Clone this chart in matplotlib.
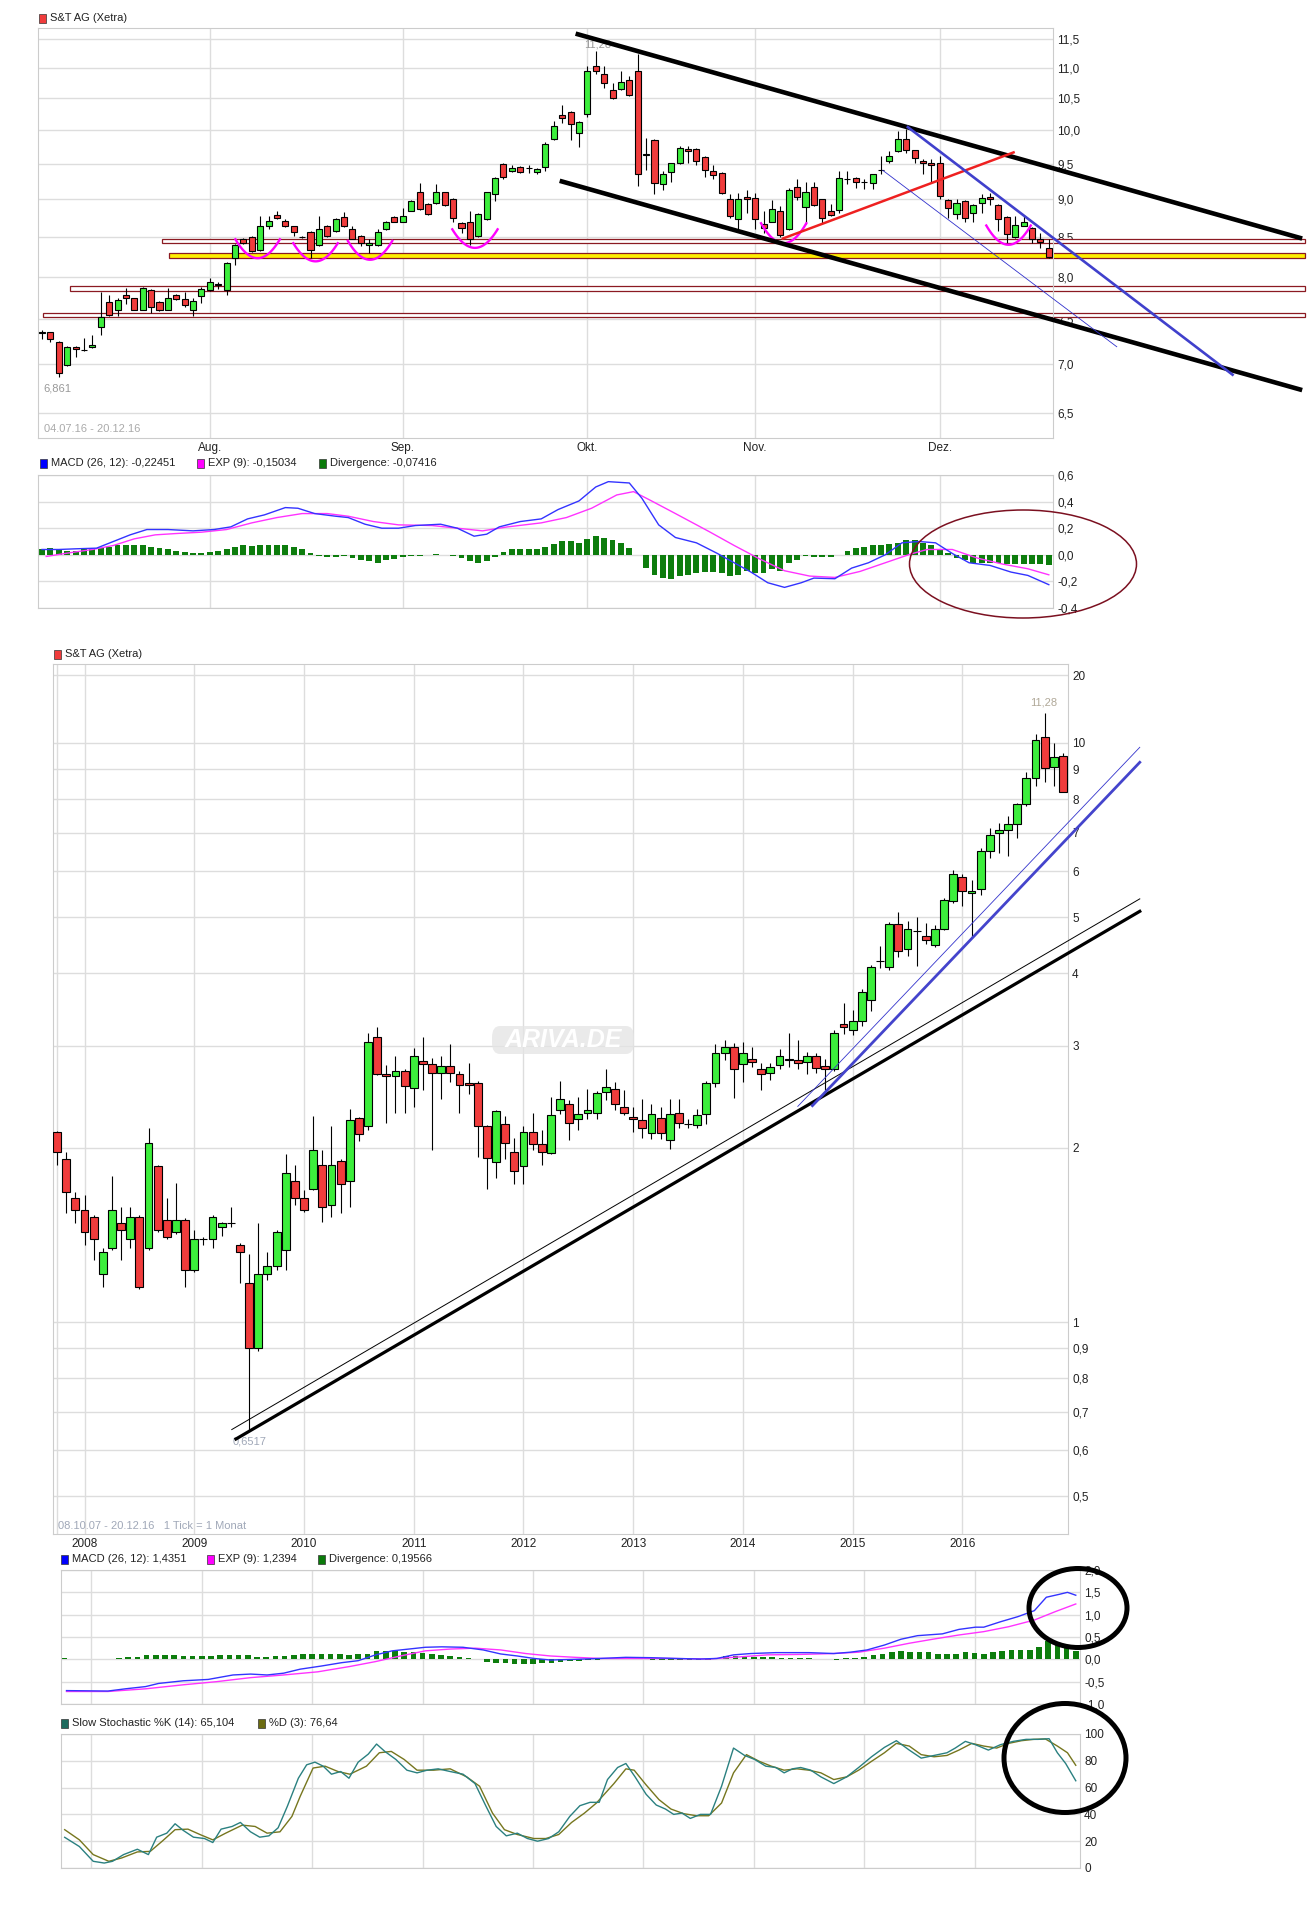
import numpy as np
import matplotlib
matplotlib.use('Agg')
import matplotlib.pyplot as plt
from matplotlib.patches import Rectangle, Ellipse, FancyBboxPatch
from matplotlib.ticker import NullLocator

plt.rcParams['font.family'] = ['Liberation Sans Narrow', 'Liberation Sans', 'DejaVu Sans']

W, H = 1308, 1912
GREEN = '#3cee3c'
RED = '#f03c3c'
GRID = '#dddddd'

# ---------------- daily candles 04.07.16 - 20.12.16 (trading-day index) ----------------
d_open = [7.34, 7.35, 7.24, 6.99, 7.19, 7.15, 7.19, 7.41, 7.70, 7.61,
          7.78, 7.74, 7.61, 7.84, 7.70, 7.61, 7.78, 7.73, 7.61, 7.77,
          7.84, 7.91, 7.84, 8.23, 8.48, 8.50, 8.33, 8.64, 8.79, 8.71,
          8.64, 8.50, 8.57, 8.40, 8.64, 8.58, 8.76, 8.60, 8.51, 8.40,
          8.40, 8.60, 8.76, 8.70, 8.85, 9.10, 8.94, 8.95, 9.10, 9.01,
          8.68, 8.70, 8.51, 8.73, 9.08, 9.50, 9.40, 9.46, 9.44, 9.39,
          9.46, 9.87, 10.23, 10.28, 9.96, 10.25, 11.03, 10.89, 10.64, 10.65,
          10.80, 10.95, 9.63, 9.86, 9.21, 9.39, 9.52, 9.72, 9.72, 9.60,
          9.40, 9.37, 9.01, 8.74, 9.04, 9.02, 8.67, 8.70, 8.85, 8.60,
          9.18, 8.90, 9.17, 9.00, 8.85, 8.86, 9.29, 9.30, 9.25, 9.23,
          9.42, 9.54, 9.69, 9.87, 9.70, 9.55, 9.52, 9.52, 8.99, 8.80,
          8.98, 8.81, 8.95, 9.04, 8.93, 8.76, 8.50, 8.65, 8.62, 8.47,
          8.36]
d_high = [7.38, 7.35, 7.25, 7.20, 7.20, 7.29, 7.32, 7.82, 7.78, 7.74,
          7.86, 7.75, 7.87, 7.85, 7.71, 7.86, 7.79, 7.82, 7.74, 7.88,
          7.98, 7.94, 8.18, 8.41, 8.49, 8.51, 8.77, 8.77, 8.85, 8.73,
          8.65, 8.51, 8.58, 8.77, 8.66, 8.75, 8.83, 8.64, 8.52, 8.48,
          8.60, 8.71, 8.78, 8.88, 8.99, 9.23, 8.95, 9.21, 9.11, 9.02,
          8.69, 8.84, 8.82, 9.11, 9.31, 9.51, 9.48, 9.47, 9.48, 9.44,
          9.82, 10.14, 10.39, 10.30, 10.15, 11.03, 11.28, 11.03, 10.75, 10.95,
          10.86, 11.23, 9.88, 9.87, 9.40, 9.52, 9.76, 9.76, 9.73, 9.61,
          9.49, 9.38, 9.08, 9.09, 9.13, 9.09, 8.84, 8.99, 8.91, 9.16,
          9.28, 9.24, 9.24, 9.01, 8.94, 9.40, 9.40, 9.31, 9.28, 9.36,
          9.61, 9.69, 9.99, 10.02, 9.71, 9.57, 9.57, 9.61, 9.00, 9.00,
          8.99, 8.94, 9.08, 9.09, 8.94, 8.77, 8.77, 8.77, 8.63, 8.55,
          8.48]
d_low = [7.27, 7.24, 6.861, 6.98, 7.08, 7.14, 7.18, 7.32, 7.53, 7.53,
         7.68, 7.60, 7.60, 7.57, 7.59, 7.60, 7.72, 7.64, 7.53, 7.69,
         7.83, 7.85, 7.78, 8.15, 8.41, 8.31, 8.32, 8.61, 8.74, 8.63,
         8.51, 8.49, 8.23, 8.39, 8.50, 8.57, 8.63, 8.47, 8.38, 8.30,
         8.39, 8.59, 8.69, 8.69, 8.84, 8.86, 8.79, 8.94, 8.91, 8.70,
         8.55, 8.40, 8.50, 8.72, 8.98, 9.29, 9.38, 9.37, 9.37, 9.36,
         9.40, 9.86, 10.12, 9.86, 9.75, 10.20, 10.89, 10.67, 10.49, 10.64,
         10.54, 9.19, 9.42, 9.07, 9.13, 9.25, 9.50, 9.52, 9.49, 9.32,
         9.29, 9.08, 8.75, 8.60, 8.82, 8.60, 8.55, 8.69, 8.50, 8.59,
         8.99, 8.67, 8.91, 8.67, 8.78, 8.82, 9.21, 9.16, 9.15, 9.15,
         9.35, 9.51, 9.68, 9.66, 9.52, 9.35, 9.24, 9.00, 8.75, 8.74,
         8.70, 8.69, 8.82, 8.92, 8.58, 8.42, 8.49, 8.64, 8.42, 8.36,
         8.23]
d_close = [7.35, 7.27, 6.91, 7.19, 7.16, 7.15, 7.21, 7.52, 7.55, 7.72,
           7.74, 7.61, 7.86, 7.64, 7.60, 7.74, 7.73, 7.66, 7.71, 7.85,
           7.94, 7.90, 8.17, 8.40, 8.42, 8.32, 8.64, 8.71, 8.75, 8.64,
           8.57, 8.50, 8.33, 8.60, 8.51, 8.73, 8.64, 8.48, 8.42, 8.42,
           8.57, 8.70, 8.70, 8.77, 8.98, 8.87, 8.80, 9.10, 8.92, 8.75,
           8.62, 8.47, 8.80, 9.10, 9.30, 9.32, 9.44, 9.39, 9.45, 9.43,
           9.80, 10.06, 10.19, 10.10, 10.13, 10.95, 10.95, 10.75, 10.51, 10.77,
           10.55, 9.35, 9.64, 9.23, 9.36, 9.51, 9.74, 9.69, 9.54, 9.42,
           9.34, 9.09, 8.77, 9.00, 9.00, 8.73, 8.62, 8.87, 8.52, 9.13,
           9.04, 9.10, 8.92, 8.75, 8.79, 9.30, 9.29, 9.24, 9.25, 9.35,
           9.42, 9.62, 9.87, 9.70, 9.59, 9.51, 9.48, 9.05, 8.88, 8.95,
           8.75, 8.93, 9.02, 9.00, 8.73, 8.54, 8.66, 8.70, 8.47, 8.44,
           8.24]
d_month_idx = [20, 43, 65, 85, 107]
d_month_lbl = ['Aug.', 'Sep.', 'Okt.', 'Nov.', 'Dez.']
d_yticks = [6.5, 7.0, 7.5, 8.0, 8.5, 9.0, 9.5, 10.0, 10.5, 11.0, 11.5]

# horizontal zones drawn on the daily chart
band_start = [14.3, 15.1, 3.3, 0.1]
band_low = [8.42, 8.23, 7.83, 7.52]
band_high = [8.48, 8.30, 7.89, 7.57]
band_fill = ['white', '#ffee00', 'white', 'white']

# trend lines on the daily chart (index, price)
d_black_up = ([63.6, 150.2], [11.59, 8.48])
d_black_lo = ([61.7, 150.2], [9.26, 6.73])
d_red = ([88.3, 115.8], [8.48, 9.67])
d_blue = ([103.2, 141.9], [10.05, 6.89])
d_blue_thin = ([100.2, 128.1], [9.41, 7.19])

# magenta "cups"
arc_center = [25.7, 32.6, 39.1, 51.6, 88.4, 115.2]
arc_half = [2.65, 2.65, 2.65, 2.7, 2.7, 2.65]
arc_low = [8.23, 8.19, 8.21, 8.36, 8.42, 8.40]
arc_high = [8.47, 8.42, 8.45, 8.60, 8.68, 8.65]

# ---------------- daily MACD ----------------
macd_d_x = [0, 2, 4, 6.5, 8.5, 10.5, 12.5, 15, 18, 20.5, 22.5, 24.5, 26.5, 29, 30.5, 32.5,
            35, 36.5, 38.5, 40.5, 42.5, 44.5, 47.5, 49.5, 51.5, 53, 54.5, 57, 59.5, 61.5,
            64, 66, 67.5, 70, 71.5, 73.5, 75.5, 78, 80.5, 82.5, 84.5, 86.5, 88.5, 90.5,
            92, 94.5, 96.5, 98.5, 100.5, 102.5, 104.5, 106.5, 108.5, 110.5, 113, 115.5,
            117.5, 120]
macd_d_y = [0.04, 0.04, 0.045, 0.05, 0.10, 0.15, 0.19, 0.19, 0.18, 0.19, 0.21, 0.27, 0.30,
            0.355, 0.35, 0.31, 0.29, 0.28, 0.23, 0.20, 0.20, 0.22, 0.23, 0.20, 0.14, 0.155,
            0.21, 0.25, 0.27, 0.34, 0.405, 0.51, 0.55, 0.54, 0.425, 0.225, 0.13, 0.09, 0.01,
            -0.06, -0.13, -0.21, -0.245, -0.21, -0.175, -0.18, -0.10, -0.06, 0.0, 0.09,
            0.10, 0.09, 0.01, -0.06, -0.08, -0.13, -0.155, -0.22451]
sig_d_x = [0.5, 3, 6, 8.5, 11, 13.5, 16, 19, 22, 25, 28, 31, 34, 36.5, 39.5, 42.5, 46.5,
           49.5, 52.5, 55.5, 59.5, 62.5, 65.5, 68.5, 70.5, 72.5, 75.5, 79.5, 82.5, 85.5,
           88.5, 91.5, 94.5, 97.5, 100.5, 103.5, 105.5, 108.5, 111.5, 114.5, 117.5, 120]
sig_d_y = [-0.0125, 0.0125, 0.04, 0.07, 0.12, 0.15, 0.16, 0.17, 0.19, 0.24, 0.28, 0.31,
           0.31, 0.29, 0.25, 0.225, 0.22, 0.20, 0.18, 0.21, 0.24, 0.28, 0.35, 0.45, 0.475,
           0.41, 0.31, 0.175, 0.07, -0.03, -0.12, -0.16, -0.17, -0.125, -0.06, 0.005,
           0.04, 0.04, -0.025, -0.07, -0.105, -0.15034]
div_d = [0.045, 0.05, 0.04, 0.03, 0.03, 0.04, 0.04, 0.05, 0.06, 0.07,
         0.075, 0.07, 0.075, 0.06, 0.05, 0.04, 0.03, 0.02, 0.015, 0.015,
         0.02, 0.03, 0.04, 0.06, 0.07, 0.065, 0.075, 0.075, 0.075, 0.075,
         0.06, 0.04, 0.01, -0.01, -0.02, -0.02, -0.01, -0.025, -0.04, -0.05,
         -0.06, -0.04, -0.03, -0.02, -0.01, -0.01, -0.005, 0.005, 0.0, -0.01,
         -0.025, -0.05, -0.06, -0.045, -0.015, 0.02, 0.04, 0.045, 0.045, 0.045,
         0.06, 0.08, 0.10, 0.10, 0.09, 0.12, 0.14, 0.125, 0.11, 0.085,
         0.05, 0.0, -0.10, -0.15, -0.175, -0.18, -0.16, -0.15, -0.14, -0.13,
         -0.13, -0.14, -0.16, -0.15, -0.125, -0.14, -0.14, -0.11, -0.12, -0.06,
         -0.04, -0.01, -0.02, -0.02, -0.02, 0.0, 0.03, 0.05, 0.06, 0.07,
         0.075, 0.08, 0.09, 0.11, 0.11, 0.09, 0.07, 0.04, 0.01, -0.025,
         -0.04, -0.06, -0.06, -0.06, -0.06, -0.07, -0.07, -0.07, -0.07, -0.07,
         -0.07416]

# ---------------- monthly candles Oct 2007 - Dec 2016 ----------------
m_open = [2.13, 1.91, 1.64, 1.56, 1.52, 1.21, 1.34, 1.48, 1.39, 1.52,
          1.34, 1.86, 1.50, 1.43, 1.50, 1.23, 1.39, 1.39, 1.46, 1.48,
          1.36, 1.17, 0.90, 1.21, 1.25, 1.33, 1.75, 1.64, 1.70, 1.87,
          1.59, 1.90, 1.75, 2.25, 2.18, 3.10, 2.68, 2.66, 2.71, 2.54,
          2.82, 2.79, 2.69, 2.77, 2.68, 2.59, 2.59, 2.18, 1.89, 2.20,
          1.97, 1.86, 2.13, 2.03, 1.96, 2.32, 2.38, 2.24, 2.30, 2.30,
          2.50, 2.53, 2.35, 2.26, 2.23, 2.12, 2.25, 2.06, 2.30, 2.20,
          2.19, 2.29, 2.59, 2.91, 2.99, 2.79, 2.85, 2.73, 2.69, 2.78,
          2.85, 2.83, 2.81, 2.88, 2.77, 2.74, 3.27, 3.20, 3.31, 3.60,
          4.21, 4.10, 4.87, 4.40, 4.73, 4.65, 4.47, 4.77, 5.34, 5.87,
          5.51, 5.60, 6.52, 6.99, 7.08, 7.26, 7.85, 8.70, 10.24, 9.08,
          9.50]
m_high = [2.14, 1.97, 1.68, 1.66, 1.53, 1.34, 1.79, 1.58, 1.58, 1.53,
          2.16, 1.87, 1.64, 1.74, 1.51, 1.44, 1.40, 1.53, 1.49, 1.58,
          1.37, 1.31, 1.48, 1.32, 1.44, 1.95, 1.87, 1.69, 2.27, 1.98,
          2.18, 1.91, 2.33, 2.26, 3.16, 3.23, 2.78, 2.88, 2.73, 2.97,
          3.10, 2.86, 2.88, 3.02, 2.71, 2.80, 2.61, 2.19, 2.32, 2.27,
          2.08, 2.18, 2.30, 2.15, 2.45, 2.61, 2.42, 2.45, 2.53, 2.51,
          2.74, 2.60, 2.52, 2.35, 2.43, 2.38, 2.35, 2.43, 2.43, 2.24,
          2.33, 2.61, 3.02, 3.07, 3.03, 3.05, 2.99, 2.80, 2.80, 2.96,
          3.16, 3.07, 2.93, 2.91, 2.85, 3.20, 3.55, 3.46, 3.76, 4.14,
          4.46, 4.90, 5.11, 4.93, 5.01, 4.88, 4.84, 5.39, 6.03, 5.95,
          5.79, 6.59, 7.13, 7.28, 7.49, 7.88, 8.90, 10.36, 11.28, 10.00,
          9.61]
m_low = [1.87, 1.54, 1.48, 1.36, 1.28, 1.15, 1.33, 1.28, 1.34, 1.14,
         1.33, 1.43, 1.39, 1.42, 1.15, 1.22, 1.36, 1.34, 1.41, 1.46,
         1.17, 0.6517, 0.89, 1.18, 1.23, 1.23, 1.59, 1.55, 1.69, 1.49,
         1.52, 1.54, 1.58, 2.05, 2.15, 2.67, 2.21, 2.30, 2.30, 2.35,
         2.52, 1.98, 2.43, 2.60, 2.30, 2.48, 1.93, 1.70, 1.77, 1.91,
         1.73, 1.73, 1.98, 1.87, 1.95, 2.29, 2.06, 2.15, 2.24, 2.24,
         2.42, 2.32, 2.28, 2.13, 2.08, 2.07, 2.07, 1.99, 2.16, 2.16,
         2.16, 2.20, 2.55, 2.83, 2.44, 2.60, 2.76, 2.52, 2.62, 2.74,
         2.76, 2.74, 2.68, 2.69, 2.52, 2.71, 3.14, 3.13, 3.25, 3.44,
         4.09, 4.05, 4.27, 4.29, 4.12, 4.50, 4.45, 4.76, 5.30, 5.22,
         4.63, 5.47, 6.33, 6.46, 6.39, 6.85, 7.77, 8.42, 8.55, 8.44,
         8.23]
m_close = [1.97, 1.68, 1.56, 1.43, 1.39, 1.32, 1.56, 1.44, 1.52, 1.15,
           2.04, 1.44, 1.40, 1.50, 1.23, 1.39, 1.39, 1.52, 1.48, 1.48,
           1.32, 0.90, 1.21, 1.25, 1.43, 1.81, 1.64, 1.56, 1.98, 1.58,
           1.87, 1.73, 2.23, 2.11, 3.04, 2.68, 2.66, 2.71, 2.56, 2.88,
           2.79, 2.69, 2.77, 2.69, 2.57, 2.57, 2.18, 1.92, 2.31, 2.04,
           1.82, 2.13, 2.03, 1.97, 2.28, 2.43, 2.21, 2.29, 2.32, 2.49,
           2.55, 2.38, 2.30, 2.24, 2.16, 2.29, 2.12, 2.29, 2.21, 2.20,
           2.28, 2.59, 2.91, 2.99, 2.73, 2.91, 2.81, 2.685, 2.76, 2.88,
           2.84, 2.80, 2.88, 2.75, 2.74, 3.16, 3.23, 3.31, 3.71, 4.11,
           4.21, 4.87, 4.38, 4.77, 4.73, 4.57, 4.77, 5.36, 5.94, 5.56,
           5.55, 6.50, 6.94, 7.07, 7.26, 7.85, 8.70, 10.13, 9.06, 9.46,
           8.23]
m_year_idx = [3, 15, 27, 39, 51, 63, 75, 87, 99]
m_year_lbl = ['2008', '2009', '2010', '2011', '2012', '2013', '2014', '2015', '2016']
m_yticks = [0.5, 0.6, 0.7, 0.8, 0.9, 1, 2, 3, 4, 5, 6, 7, 8, 9, 10, 13.1]
m_ylabels = ['0,5', '0,6', '0,7', '0,8', '0,9', '1', '2', '3', '4', '5', '6', '7', '8', '9', '10', '20']

m_black = ([19.56, 118.4], [0.628, 5.12])
m_black_thin = ([19.1, 118.4], [0.652, 5.38])
m_blue = ([82.6, 118.4], [2.364, 9.26])
m_blue_thin = ([81.0, 118.4], [2.357, 9.83])

# ---------------- monthly MACD ----------------
macd_m_x = [0.3, 4.8, 6.7, 8.9, 10.3, 13.0, 15.7, 18.4, 20.3, 22.1, 23.9, 25.7, 28.0, 30.2,
            32.0, 33.9, 35.7, 37.5, 39.3, 41.1, 43.4, 45.6, 47.5, 49.3, 51.1, 52.9, 55.6,
            58.3, 61.1, 63.8, 66.5, 69.2, 71.0, 72.8, 74.7, 77.4, 81.0, 83.7, 85.5, 87.3,
            89.2, 91.0, 92.8, 95.5, 97.3, 99.1, 100.0, 101.8, 103.7, 105.5, 106.8, 108.2,
            109.1, 110.0]
macd_m_y = [-0.70, -0.71, -0.66, -0.61, -0.54, -0.48, -0.45, -0.35, -0.33, -0.35, -0.31,
            -0.22, -0.15, -0.075, -0.03, 0.10, 0.19, 0.23, 0.27, 0.28, 0.27, 0.21, 0.12,
            0.075, 0.02, -0.015, 0.0, 0.02, 0.045, 0.037, 0.02, 0.007, 0.02, 0.10, 0.13,
            0.15, 0.15, 0.13, 0.16, 0.21, 0.32, 0.45, 0.53, 0.57, 0.67, 0.72, 0.72, 0.84,
            0.955, 1.09, 1.39, 1.455, 1.50, 1.4351]
sig_m_x = [0.3, 4.8, 8.9, 13.0, 16.6, 20.3, 23.9, 27.6, 31.1, 33.9, 36.6, 39.3, 42.0, 44.7,
           47.5, 50.2, 52.9, 55.6, 58.3, 61.9, 65.6, 70.1, 72.8, 76.5, 80.1, 83.7, 86.4,
           89.2, 91.9, 94.6, 97.3, 100.0, 102.7, 105.5, 107.8, 110.0]
sig_m_y = [-0.72, -0.72, -0.66, -0.57, -0.50, -0.41, -0.35, -0.28, -0.16, -0.05, 0.075,
           0.19, 0.23, 0.25, 0.21, 0.13, 0.075, 0.045, 0.02, 0.02, 0.02, 0.007, 0.045,
           0.10, 0.11, 0.13, 0.16, 0.25, 0.36, 0.455, 0.545, 0.62, 0.73, 0.88, 1.07, 1.2394]
div_m = [0.037, 0.007, 0.007, 0.007, 0.007, 0.015, 0.03, 0.045, 0.06, 0.09,
         0.09, 0.09, 0.09, 0.08, 0.075, 0.075, 0.08, 0.09, 0.09, 0.09,
         0.09, 0.06, 0.06, 0.067, 0.08, 0.10, 0.12, 0.11, 0.12, 0.12,
         0.11, 0.10, 0.12, 0.12, 0.19, 0.19, 0.18, 0.16, 0.155, 0.15,
         0.12, 0.09, 0.075, 0.06, 0.03, 0.007, -0.05, -0.09, -0.09, -0.10,
         -0.11, -0.10, -0.09, -0.075, -0.06, -0.045, -0.03, -0.02, -0.015, 0.015,
         0.02, 0.02, 0.015, 0.007, -0.015, -0.015, -0.015, -0.015, -0.015, -0.015,
         -0.015, 0.037, 0.075, 0.075, 0.075, 0.06, 0.06, 0.045, 0.037, 0.037,
         0.037, 0.03, 0.015, 0.015, -0.01, 0.02, 0.03, 0.045, 0.10, 0.13,
         0.17, 0.19, 0.17, 0.17, 0.17, 0.12, 0.12, 0.12, 0.16, 0.15,
         0.12, 0.17, 0.19, 0.21, 0.21, 0.22, 0.28, 0.40, 0.36, 0.32,
         0.19566]

# ---------------- slow stochastic ----------------
stk_x = [0.1, 1.7, 3.2, 4.4, 5.3, 6.5, 8.0, 9.2, 10.1, 11.2, 12.1, 13.0, 14.1, 15.3, 16.2,
         17.1, 18.3, 19.2, 20.3, 21.3, 22.3, 23.3, 24.3, 25.5, 26.4, 27.3, 28.2, 29.1,
         30.1, 31.0, 32.0, 33.1, 34.0, 34.9, 36.1, 37.3, 38.4, 39.5, 40.7, 42.0, 43.4,
         44.7, 45.9, 47.0, 48.1, 49.3, 50.4, 51.5, 52.7, 53.8, 55.0, 56.1, 57.2, 58.2,
         59.1, 60.2, 61.1, 62.1, 63.3, 64.4, 65.4, 66.3, 67.2, 68.1, 69.2, 70.3, 71.5,
         72.8, 74.0, 75.1, 76.3, 77.4, 78.3, 79.2, 80.1, 81.2, 82.3, 83.7, 85.1, 86.4,
         87.8, 89.2, 90.5, 91.9, 93.2, 94.6, 96.0, 96.9, 98.0, 99.1, 100.5, 101.8, 103.2,
         104.6, 105.9, 107.1, 108.0, 108.9, 110.0]
stk_y = [22.9, 16, 5, 3.7, 5, 10, 14, 10, 23, 26, 33, 28, 23, 22, 19, 29, 31, 34, 27, 23,
         24, 30, 46, 67, 77, 79, 76, 70, 72, 67, 79, 85, 92.5, 87, 81, 73, 71, 73, 74, 72,
         70, 63, 46, 31, 24, 26, 22, 20, 22, 27, 38.5, 46.5, 49, 49, 66, 75, 78, 68, 55, 47,
         44, 40, 41, 37, 40, 40, 61, 89.5, 84, 81, 76, 75, 71, 74, 75, 73, 68, 63, 68, 75,
         83, 90, 95, 88, 82, 84, 86, 89.5, 94.5, 92, 88, 92, 94.5, 96, 96, 96.5, 86, 78,
         65.104]
std_x = [0.1, 1.7, 3.2, 4.9, 6.3, 8.0, 9.4, 10.7, 12.1, 13.5, 14.8, 16.2, 17.6, 19.4, 20.8,
         22.1, 23.5, 24.8, 25.7, 27.1, 28.4, 29.8, 31.1, 32.9, 34.3, 35.6, 37.0, 38.4,
         40.2, 42.0, 43.8, 45.2, 46.6, 47.9, 49.3, 51.1, 52.4, 53.8, 55.2, 56.6, 57.9,
         59.8, 61.1, 62.0, 63.3, 64.7, 66.0, 67.4, 68.8, 70.1, 71.5, 72.8, 74.2, 75.6,
         76.9, 78.3, 79.7, 81.0, 82.3, 83.7, 85.1, 86.4, 87.8, 89.2, 90.5, 91.9, 93.2,
         94.6, 96.0, 97.3, 98.7, 100.0, 101.4, 102.7, 104.1, 105.4, 106.7, 108.0, 109.1,
         110.0]
std_y = [28.6, 21, 10, 5, 7.5, 12, 12.4, 20, 28.6, 29, 25, 21, 26, 32, 31, 26, 27, 38.5,
         53.5, 74.6, 76, 72, 70, 76, 86, 87, 81, 73, 73, 74, 68, 61, 41, 28.6, 25, 22, 22,
         25, 34, 41, 48.5, 63, 74, 73, 62, 51, 44, 40.5, 39, 39, 48.5, 71, 84.6, 79.6, 76,
         73, 74, 73, 71, 66, 68, 73, 79.6, 86, 93, 91, 84.6, 83, 84, 88, 93, 91, 89.5, 93,
         95, 96, 96.3, 91, 86, 76.64]


def rect(l, t, r, b):
    return [l / W, 1 - b / H, (r - l) / W, (b - t) / H]


def style(ax, xt, yt, ylabels, xlabels=None):
    ax.set_facecolor('white')
    for s in ax.spines.values():
        s.set_color('#cccccc')
    ax.yaxis.tick_right()
    ax.yaxis.set_minor_locator(NullLocator())
    ax.set_yticks(yt)
    ax.set_yticklabels(ylabels)
    ax.set_xticks(xt)
    ax.set_xticklabels(xlabels if xlabels else [])
    ax.tick_params(length=0, pad=3, labelsize=8.5, labelcolor='#222222')
    ax.grid(True, color=GRID, lw=1)
    ax.set_axisbelow(True)


def candles(ax, o, h, l, c, w):
    o, h, l, c = map(np.asarray, (o, h, l, c))
    x = np.arange(len(o))
    cols = np.where(c >= o, GREEN, RED)
    ax.vlines(x, l, h, color='black', lw=0.8, zorder=3)
    ax.bar(x, np.abs(c - o), bottom=np.minimum(o, c), width=w, color=cols,
           edgecolor='black', lw=0.8, zorder=4)


def legend_item(x, y, color, text):
    fig.add_artist(Rectangle((x / W, 1 - (y + 4.5) / H), 7 / W, 9 / H, transform=fig.transFigure,
                             facecolor=color, edgecolor='#333333', lw=0.5))
    fig.text((x + 11) / W, 1 - y / H, text, ha='left', va='center', fontsize=8, color='#222222')


def fig_ellipse(cx, cy, w, h, color, lw):
    fig.add_artist(Ellipse((cx / W, 1 - cy / H), w / W, h / H, transform=fig.transFigure,
                           fill=False, edgecolor=color, lw=lw, zorder=10))


fig = plt.figure(figsize=(W / 100, H / 100), dpi=100)
fig.patch.set_facecolor('white')

# ======== panel 1: daily candles ========
ax1 = fig.add_axes(rect(38, 28, 1053, 438))
ax1.set_yscale('log')
style(ax1, d_month_idx, d_yticks, [f'{v:.1f}'.replace('.', ',') for v in d_yticks], d_month_lbl)
ax1.set_xlim(-0.48, 120.5)
ax1.set_ylim(6.256, 11.69)
candles(ax1, d_open, d_high, d_low, d_close, 0.72)
for xs, lo, hi, fc in zip(band_start, band_low, band_high, band_fill):
    ax1.add_patch(Rectangle((xs, lo), 150.5 - xs, hi - lo, facecolor=fc, edgecolor='#8b1a22',
                            lw=0.9, clip_on=False, zorder=2))
for c, hw, lo, hi in zip(arc_center, arc_half, arc_low, arc_high):
    t = np.linspace(-1, 1, 40)
    ax1.plot(c + hw * t, np.exp(np.log(lo) + (np.log(hi) - np.log(lo)) * t ** 2),
             color='#ff00ff', lw=1.7, zorder=6)
ax1.text(66.2, 11.40, '11,28', ha='center', va='center', fontsize=8, color='#999999', zorder=2)
ax1.plot(*d_black_up, color='black', lw=3.3, clip_on=False, zorder=7, solid_capstyle='butt')
ax1.plot(*d_black_lo, color='black', lw=3.3, clip_on=False, zorder=7, solid_capstyle='butt')
ax1.plot(*d_red, color='#ee2020', lw=1.8, clip_on=False, zorder=7)
ax1.plot(*d_blue, color='#4040cc', lw=1.9, clip_on=False, zorder=7)
ax1.plot(*d_blue_thin, color='#3030cc', lw=0.6, clip_on=False, zorder=7)
ax1.text(0.2, 6.75, '6,861', ha='left', va='center', fontsize=8, color='#999999')
ax1.text(0.2, 6.34, '04.07.16 - 20.12.16', ha='left', va='center', fontsize=8, color='#aaaaaa')
legend_item(39, 18, RED, 'S&T AG (Xetra)')

# ======== panel 2: daily MACD ========
ax2 = fig.add_axes(rect(38, 475, 1053, 608))
style(ax2, d_month_idx, [-0.4, -0.2, 0.0, 0.2, 0.4, 0.6],
      ['-0,4', '-0,2', '0,0', '0,2', '0,4', '0,6'])
ax2.set_xlim(-0.48, 120.5)
ax2.set_ylim(-0.4, 0.6)
ax2.bar(np.arange(len(div_d)), div_d, width=0.7, color='#0d7d0d', zorder=2)
ax2.plot(sig_d_x, sig_d_y, color='#ff33ff', lw=1.0, zorder=3)
ax2.plot(macd_d_x, macd_d_y, color='#3333ff', lw=1.0, zorder=4)
legend_item(40, 463, '#0000ff', 'MACD (26, 12): -0,22451')
legend_item(197, 463, '#ff00ff', 'EXP (9): -0,15034')
legend_item(319, 463, '#0a7a0a', 'Divergence: -0,07416')
fig_ellipse(1023, 564, 227, 108, '#7b1020', 1.1)

# ======== panel 3: monthly candles (log) ========
ax3 = fig.add_axes(rect(53, 664, 1068, 1534))
ax3.set_yscale('log')
style(ax3, m_year_idx, m_yticks, m_ylabels, m_year_lbl)
ax3.set_xlim(-0.45, 110.55)
ax3.set_ylim(0.4304, 13.69)
ax3.axvline(0, color=GRID, lw=1, zorder=0.5)
ax3.add_patch(FancyBboxPatch((492 / W, 1 - 1054 / H), 142 / W, 28 / H,
                             boxstyle='round,pad=0,rounding_size=0.006', transform=fig.transFigure,
                             facecolor='#e4e4e4', edgecolor='none', alpha=0.75, zorder=1))
ax3.text(563 / W, 1 - 1040 / H, 'ARIVA.DE', transform=fig.transFigure, ha='center', va='center',
         fontsize=18, fontstyle='italic', fontweight='bold', color='white',
         family=['Liberation Sans', 'DejaVu Sans'], zorder=1.2)
candles(ax3, m_open, m_high, m_low, m_close, 0.86)
ax3.plot(*m_black, color='black', lw=2.3, clip_on=False, zorder=7)
ax3.plot(*m_black_thin, color='black', lw=0.7, clip_on=False, zorder=7)
ax3.plot(*m_blue, color='#4444cc', lw=2.0, clip_on=False, zorder=7)
ax3.plot(*m_blue_thin, color='#3333cc', lw=0.6, clip_on=False, zorder=7)
ax3.text(107.9, 11.74, '11,28', ha='center', va='center', fontsize=8, color='#b0a898')
ax3.text(19.2, 0.621, '0,6517', ha='left', va='center', fontsize=8, color='#a0a8b8')
ax3.text(0.1, 0.445, '08.10.07 - 20.12.16   1 Tick = 1 Monat', ha='left', va='center',
         fontsize=8, color='#a0a8b8')
legend_item(54, 654, RED, 'S&T AG (Xetra)')

# ======== panel 4: monthly MACD ========
ax4 = fig.add_axes(rect(61, 1570, 1080, 1704))
style(ax4, m_year_idx, [-1.0, -0.5, 0.0, 0.5, 1.0, 1.5, 2.0],
      ['-1,0', '-0,5', '0,0', '0,5', '1,0', '1,5', '2,0'])
ax4.set_xlim(-0.3, 110.46)
ax4.set_ylim(-1.0, 2.0)
ax4.bar(np.arange(len(div_m)), div_m, width=0.62, color='#0d7d0d', zorder=2)
ax4.plot(sig_m_x, sig_m_y, color='#ff33ff', lw=1.0, zorder=3)
ax4.plot(macd_m_x, macd_m_y, color='#3333ff', lw=1.0, zorder=4)
legend_item(61, 1559, '#0000ff', 'MACD (26, 12): 1,4351')
legend_item(207, 1559, '#ff00ff', 'EXP (9): 1,2394')
legend_item(318, 1559, '#0a7a0a', 'Divergence: 0,19566')
fig_ellipse(1078, 1608, 98, 79, 'black', 3.6)

# ======== panel 5: slow stochastic ========
ax5 = fig.add_axes(rect(61, 1734, 1080, 1868))
style(ax5, m_year_idx, [0, 20, 40, 60, 80, 100], ['0', '20', '40', '60', '80', '100'])
ax5.set_xlim(-0.3, 110.46)
ax5.set_ylim(0, 100)
ax5.plot(std_x, std_y, color='#76761e', lw=1.0, zorder=3)
ax5.plot(stk_x, stk_y, color='#2a8080', lw=1.0, zorder=4)
legend_item(61, 1723, '#1e6b5e', 'Slow Stochastic %K (14): 65,104')
legend_item(258, 1723, '#6b6b10', '%D (3): 76,64')
fig_ellipse(1065, 1758, 122, 109, 'black', 3.6)

fig.savefig('out.png', dpi=100, facecolor='white')
